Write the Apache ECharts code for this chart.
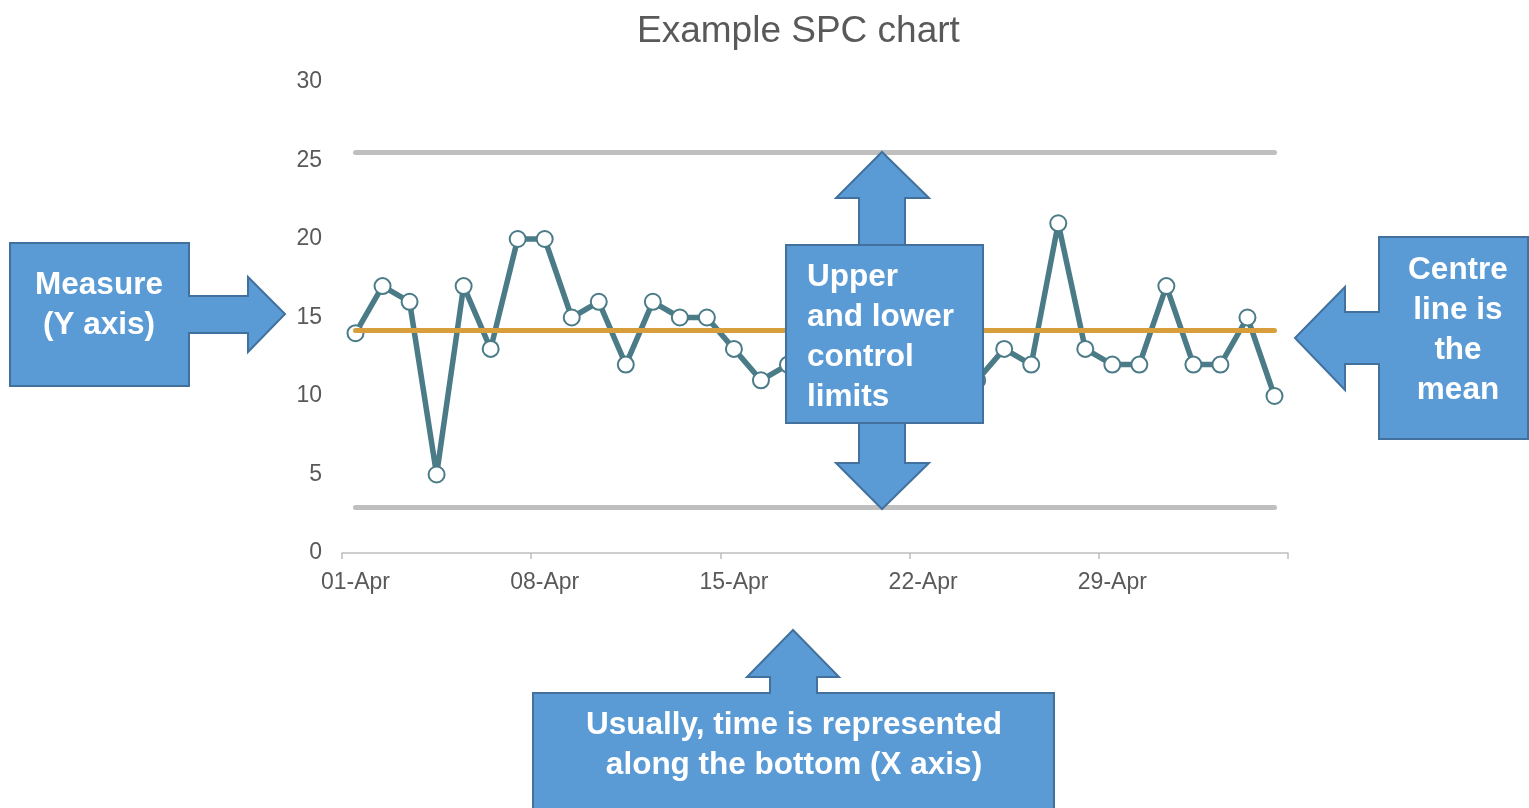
<!DOCTYPE html>
<html>
<head>
<meta charset="utf-8">
<script src="https://cdn.jsdelivr.net/npm/echarts@6/dist/echarts.min.js"></script>
<style>html,body{margin:0;padding:0;background:#fff}#c{width:1529px;height:808px}</style>
</head>
<body>
<div id="c"></div>
<script>
const dates = ['01-Apr','02-Apr','03-Apr','04-Apr','05-Apr','06-Apr','07-Apr','08-Apr','09-Apr','10-Apr',
  '11-Apr','12-Apr','13-Apr','14-Apr','15-Apr','16-Apr','17-Apr','18-Apr','19-Apr','20-Apr',
  '21-Apr','22-Apr','23-Apr','24-Apr','25-Apr','26-Apr','27-Apr','28-Apr','29-Apr','30-Apr',
  '01-May','02-May','03-May','04-May','05-May'];
const measure = [14,17,16,5,17,13,20,20,15,16,
  12,16,15,15,13,11,12,18,9,19,
  10,18,15,11,13,12,21,13,12,12,
  17,12,12,15,10];
const centreLine = 14.2;
const upperLimit = 25.5;
const lowerLimit = 2.9;
const yTicks = [0,5,10,15,20,25,30];

const FONT = "'Liberation Sans', Arial, sans-serif";
const FILL = '#5B9BD5', EDGE = '#41719C';

const chart = echarts.init(document.getElementById('c'), null, {renderer:'canvas'});

function hline(v, color) {
  return [{xAxis: dates[0], yAxis: v}, {xAxis: dates[dates.length-1], yAxis: v, lineStyle:{color:color}}];
}

function label(x, y, lines, align) {
  return {
    type: 'text', z: 110,
    x: x, y: y,
    style: {
      text: lines.join('\n'), fill: '#fff', font: 'bold 31.5px ' + FONT,
      align: align || 'center', verticalAlign: 'middle', lineHeight: 40
    }
  };
}

const shapeStyle = {fill: FILL, stroke: EDGE, lineWidth: 2};

chart.setOption({
  animation: false,
  title: {
    text: 'Example SPC chart', left: 632, top: 8,
    textStyle: {fontFamily: FONT, fontWeight: 'normal', fontSize: 37, color: '#595959'}
  },
  grid: {left: 342, right: 241, top: 82, bottom: 255, containLabel: false},
  xAxis: {
    type: 'category', data: dates, boundaryGap: true,
    axisLine: {show: true, lineStyle: {color: '#BFBFBF', width: 1.5}},
    axisTick: {show: true, interval: 6, length: 6, lineStyle: {color: '#BFBFBF', width: 1.5}},
    axisLabel: {interval: 6, margin: 18, color: '#595959', fontSize: 23, fontFamily: FONT},
    splitLine: {show: false}
  },
  yAxis: {
    type: 'value', min: yTicks[0], max: yTicks[yTicks.length-1], interval: 5,
    axisLine: {show: false}, axisTick: {show: false},
    axisLabel: {margin: 20, color: '#595959', fontSize: 23, fontFamily: FONT},
    splitLine: {show: false}
  },
  series: [
    {
      type: 'line', data: [], z: 1, silent: true,
      markLine: {
        silent: true, symbol: 'none', label: {show: false},
        lineStyle: {width: 5, type: 'solid', cap: 'round'},
        data: [
          hline(upperLimit, '#BFBFBF'),
          hline(lowerLimit, '#BFBFBF'),
          hline(centreLine, '#D89E3C')
        ]
      }
    },
    {
      type: 'line', data: measure, z: 3,
      symbol: 'circle', symbolSize: 16, showSymbol: true,
      lineStyle: {color: '#4A7B87', width: 5.5},
      itemStyle: {color: '#fff', borderColor: '#4A7B87', borderWidth: 2}
    }
  ],
  graphic: [
    {type:'polygon', z:100, shape:{points:[[10,243],[189,243],[189,296],[248,296],[248,277],[285,314],[248,352],[248,333],[189,333],[189,386],[10,386]]}, style: shapeStyle},
    label(99, 305, ['Measure','(Y axis)']),
    {type:'polygon', z:100, shape:{points:[[882,152],[929,198],[905,198],[905,463],[929,463],[882,509],[836,463],[859,463],[859,198],[836,198]]}, style: shapeStyle},
    {type:'rect', z:101, shape:{x:786,y:245,width:197,height:178}, style: shapeStyle},
    label(807, 337, ['Upper','and lower','control','limits'], 'left'),
    {type:'polygon', z:100, shape:{points:[[1295,338],[1345,287],[1345,312],[1379,312],[1379,237],[1528,237],[1528,439],[1379,439],[1379,364],[1345,364],[1345,390]]}, style: shapeStyle},
    label(1458, 330, ['Centre','line is','the','mean']),
    {type:'polygon', z:100, shape:{points:[[793,630],[839,677],[817,677],[817,693],[1054,693],[1054,815],[533,815],[533,693],[770,693],[770,677],[747,677]]}, style: shapeStyle},
    label(794, 745, ['Usually, time is represented','along the bottom (X axis)'])
  ]
});
</script>
</body>
</html>
